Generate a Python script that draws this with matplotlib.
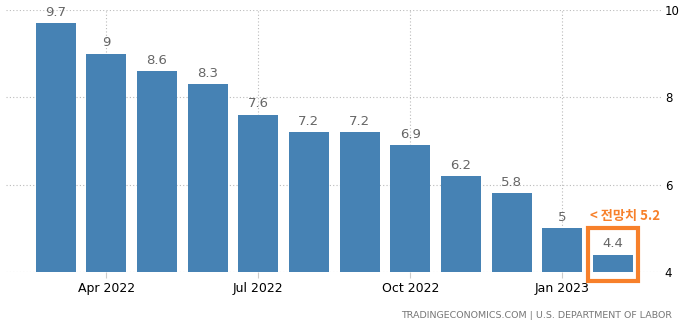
import matplotlib.pyplot as plt
from matplotlib.patches import Rectangle

months = ["Mar 2022", "Apr 2022", "May 2022", "Jun 2022", "Jul 2022", "Aug 2022",
          "Sep 2022", "Oct 2022", "Nov 2022", "Dec 2022", "Jan 2023", "Feb 2023"]
values = [9.7, 9.0, 8.6, 8.3, 7.6, 7.2, 7.2, 6.9, 6.2, 5.8, 5.0, 4.4]
value_labels = ["9.7", "9", "8.6", "8.3", "7.6", "7.2", "7.2", "6.9", "6.2", "5.8", "5", "4.4"]
tick_months = ["Apr 2022", "Jul 2022", "Oct 2022", "Jan 2023"]
y_ticks = [4, 6, 8, 10]
forecast = 5.2

plt.rcParams["font.family"] = ["DejaVu Sans", "Noto Sans CJK KR"]

fig = plt.figure(figsize=(6.8, 3.24), dpi=100)
ax = fig.add_axes([6 / 680, 1 - 272 / 324, 656 / 680, 262 / 324])

x = list(range(len(values)))
ax.bar(x, [v - 4 for v in values], bottom=4, width=0.79, color="#4682b4", zorder=2)

for xi, v, lab in zip(x, values, value_labels):
    ax.text(xi, v + 0.1, lab, ha="center", va="bottom", fontsize=9.5,
            color="#666666", clip_on=False)

ax.set_xlim(-0.98, 11.97)
ax.set_ylim(4, 10)

tick_pos = [months.index(m) for m in tick_months]
ax.set_xticks(tick_pos)
ax.set_xticklabels(tick_months, fontsize=9)
ax.set_yticks(y_ticks)
ax.set_yticklabels([str(t) for t in y_ticks], fontsize=8.5)
ax.yaxis.tick_right()
ax.tick_params(axis="y", length=0, pad=2)
ax.tick_params(axis="x", length=4, color="#cccccc", pad=3)

ax.grid(True, axis="both", linestyle=(0, (1, 2)), color="#bbbbbb", linewidth=0.8, zorder=0)
for s in ax.spines.values():
    s.set_visible(False)

# forecast highlight
last = len(values) - 1
ax.add_patch(Rectangle((last - 0.5, 3.8), 1.0, 1.2, fill=False, edgecolor="#f7802a",
                       linewidth=3, clip_on=False, zorder=3))
ax.text(last - 0.45, 5.12, "< 전망치 " + str(forecast), color="#f7802a", fontsize=9.5,
        fontweight="bold", ha="left", va="bottom", clip_on=False,
        family=["Noto Sans CJK KR", "DejaVu Sans"])

fig.text(0.988, 0.012, "TRADINGECONOMICS.COM | U.S. DEPARTMENT OF LABOR",
         ha="right", va="bottom", fontsize=6.8, color="#777777")

fig.savefig("out.png", dpi=100)
